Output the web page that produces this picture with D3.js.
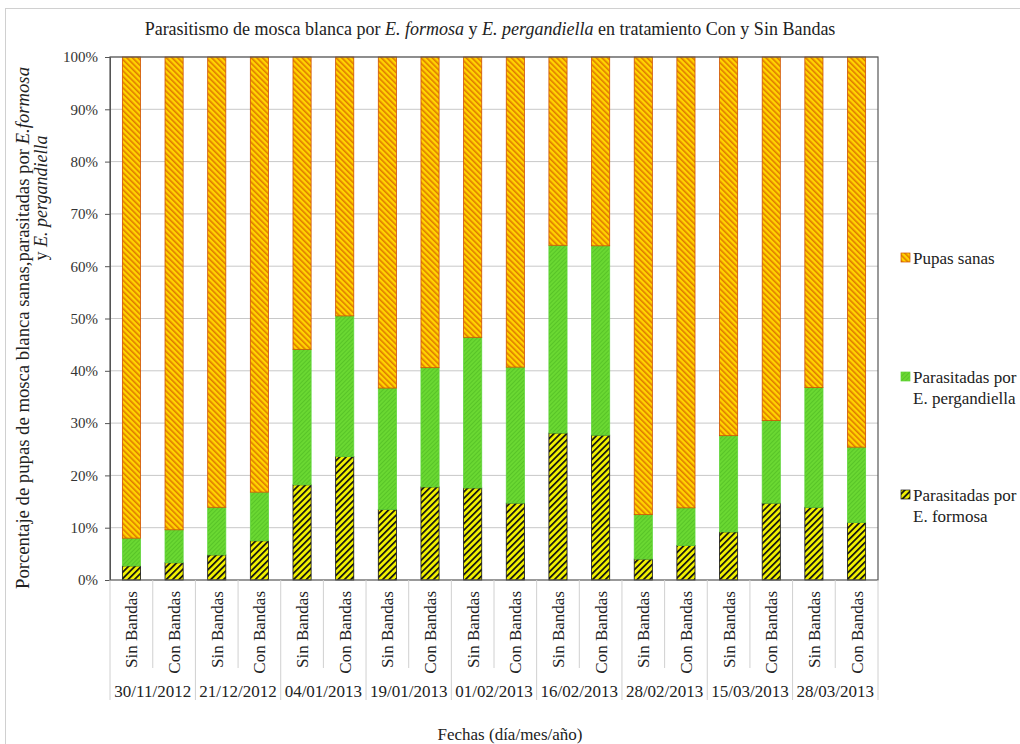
<!DOCTYPE html>
<html><head><meta charset="utf-8">
<script src="https://cdn.jsdelivr.net/npm/d3@7/dist/d3.min.js"></script>
</head>
<body style="margin:0;background:#fff;font-family:'Liberation Serif',serif">
<svg id="c" width="1020" height="744" style="font-family:'Liberation Serif',serif"></svg>
<script>
const dates = ["30/11/2012","21/12/2012","04/01/2013","19/01/2013","01/02/2013","16/02/2013","28/02/2013","15/03/2013","28/03/2013"];
const treatments = ["Sin Bandas","Con Bandas"];
// percentages, order: for each date Sin then Con
const formosa = [2.7,3.3, 4.8,7.5, 18.2,23.6, 13.5,17.8, 17.6,14.7, 28.1,27.7, 4.0,6.6, 9.2,14.7, 13.9,11.0];
const pergandiella = [5.3,6.3, 9.1,9.3, 25.9,26.9, 23.2,22.8, 28.8,26.0, 35.9,36.2, 8.5,7.2, 18.4,15.8, 22.9,14.4];
const sanas = formosa.map((f,i)=>+(100-f-pergandiella[i]).toFixed(1));
const yTicks = [0,10,20,30,40,50,60,70,80,90,100];

const FF = "'Liberation Serif', serif";
const svg = d3.select("#c");
const defs = svg.append("defs");
function hatch(id, bg, fg, w, sp, dir){
  const p = defs.append("pattern").attr("id",id).attr("patternUnits","userSpaceOnUse")
    .attr("width",sp).attr("height",sp).attr("patternTransform","rotate("+(dir>0?45:-45)+")");
  p.append("rect").attr("width",sp).attr("height",sp).attr("fill",bg);
  p.append("rect").attr("width",w).attr("height",sp).attr("fill",fg);
}
hatch("pSanas","#ffd400","#e07a00",1.6,4,-1);
hatch("pForm","#f0f000","#111",1.7,4.5,1);
hatch("pPerg","#6ad832","#58c428",1,3,1);

function txt(g){ return g.append("text").style("font-family",FF).attr("fill","#222"); }

// outer frame
svg.append("rect").attr("x",5.5).attr("y",8.5).attr("width",1020).attr("height",740)
  .attr("fill","none").attr("stroke","#d0d0d0");

const L=110,R=878,T=57,B=580;
const bars = [];
dates.forEach((d,di)=>treatments.forEach((t,ti)=>bars.push({key:di+"_"+ti,date:d,tr:t})));
const x = d3.scaleBand().domain(bars.map(b=>b.key)).range([L,R]).paddingInner(0.575).paddingOuter(0.29);
const y = d3.scaleLinear().domain([0,100]).range([B,T]);

// grid
svg.append("g").selectAll("line").data(yTicks.slice(1)).join("line")
  .attr("x1",L).attr("x2",R).attr("y1",d=>y(d)).attr("y2",d=>y(d))
  .attr("stroke","#c8c8c8").attr("stroke-width",1);

// stacked
const rows = bars.map((b,i)=>({key:b.key,f:formosa[i],p:pergandiella[i],s:sanas[i]}));
const stack = d3.stack().keys(["f","p","s"])(rows);
const fills = {f:"url(#pForm)",p:"url(#pPerg)",s:"url(#pSanas)"};
const strokes = {f:"#111",p:"#5fd43a",s:"#d05000"};
stack.forEach(layer=>{
  svg.append("g").selectAll("rect").data(layer).join("rect")
    .attr("x",d=>x(d.data.key)).attr("width",x.bandwidth())
    .attr("y",d=>y(d[1])).attr("height",d=>y(d[0])-y(d[1]))
    .attr("fill",fills[layer.key]).attr("stroke",strokes[layer.key]).attr("stroke-width",0.8);
});

// plot border
svg.append("rect").attr("x",L).attr("y",T).attr("width",R-L).attr("height",B-T)
  .attr("fill","none").attr("stroke","#555").attr("stroke-width",1.2);

// y axis
const ya = d3.axisLeft(y).tickValues(yTicks).tickFormat(d=>d+"%").tickSize(5);
const gy = svg.append("g").attr("transform",`translate(${L},0)`).call(ya);
gy.attr("font-family",null).style("font-family",FF).attr("font-size",15);
gy.select(".domain").attr("stroke","#555");
gy.selectAll(".tick line").attr("stroke","#555");
gy.selectAll("text").style("font-family",FF).attr("font-size",15).attr("fill","#333").attr("x",-12);

// x axis separators
const step = x.step();
const sepG = svg.append("g");
bars.forEach((b,i)=>{
  if(i===0) return;
  const xx = x(b.key) - (step - x.bandwidth())/2;
  const groupEdge = i%2===0;
  sepG.append("line").attr("x1",xx).attr("x2",xx).attr("y1",B).attr("y2",groupEdge?700:668)
    .attr("stroke","#d0d0d0");
});
[L,R].forEach(xx=>sepG.append("line").attr("x1",xx).attr("x2",xx).attr("y1",B).attr("y2",700).attr("stroke","#d0d0d0"));

// bar labels
const bl = svg.append("g");
bars.forEach(d=>{
  txt(bl).attr("transform",`translate(${x(d.key)+x.bandwidth()/2+6},591) rotate(-90)`)
    .attr("text-anchor","end").attr("font-size",17).text(d.tr);
});
// date labels
const dl = svg.append("g");
dates.forEach((d,i)=>{
  txt(dl).attr("x",(x(i+"_0")+x(i+"_1")+x.bandwidth())/2).attr("y",697)
    .attr("text-anchor","middle").attr("font-size",17).text(d);
});

// title
const title = txt(svg).attr("x",490).attr("y",35).attr("text-anchor","middle").attr("font-size",18);
title.append("tspan").text("Parasitismo de mosca blanca por  ");
title.append("tspan").attr("font-style","italic").text("E. formosa");
title.append("tspan").text(" y ");
title.append("tspan").attr("font-style","italic").text("E. pergandiella");
title.append("tspan").text("  en tratamiento Con y Sin Bandas");

// x title
txt(svg).attr("x",510).attr("y",740).attr("text-anchor","middle").attr("font-size",17).text("Fechas (día/mes/año)");

// y title
const yt = txt(svg).attr("transform","translate(29,328) rotate(-90)").attr("text-anchor","middle").attr("font-size",18)
  .attr("textLength",522).attr("lengthAdjust","spacingAndGlyphs");
yt.append("tspan").text("Porcentaje de pupas de mosca blanca sanas,parasitadas por ");
yt.append("tspan").attr("font-style","italic").text("E.formosa");
const yt2 = txt(svg).attr("transform","translate(47,198) rotate(-90)").attr("text-anchor","middle").attr("font-size",18);
yt2.append("tspan").text("y ");
yt2.append("tspan").attr("font-style","italic").text("E. pergandiella");

// legend
const legItems = [
  {lines:["Pupas sanas"],fill:"url(#pSanas)",stroke:"#d05000",y:258},
  {lines:["Parasitadas por","E. pergandiella"],fill:"url(#pPerg)",stroke:"#5fd43a",y:377},
  {lines:["Parasitadas por","E. formosa"],fill:"url(#pForm)",stroke:"#111",y:495}
];
const lg = svg.append("g");
legItems.forEach(it=>{
  lg.append("rect").attr("x",901).attr("y",it.y-5).attr("width",9).attr("height",9)
    .attr("fill",it.fill).attr("stroke",it.stroke).attr("stroke-width",0.7);
  it.lines.forEach((l,k)=>txt(lg).attr("x",913).attr("y",it.y+6+k*21).attr("font-size",17).text(l));
});
</script></body></html>
